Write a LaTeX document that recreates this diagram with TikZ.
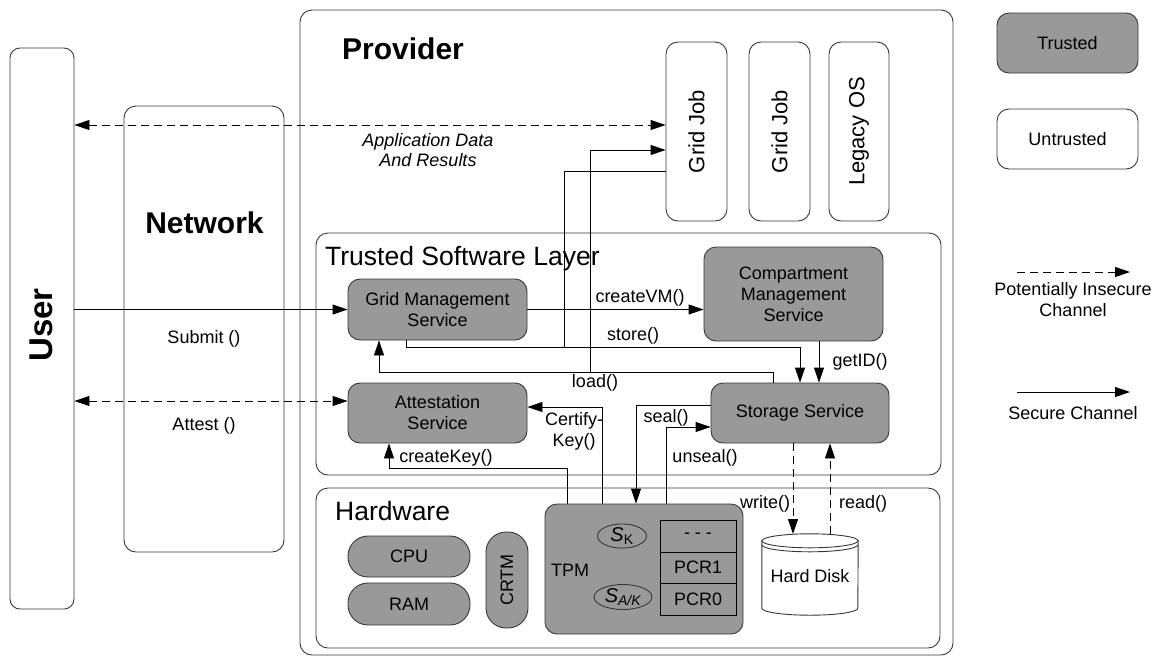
\documentclass[tikz,border=0pt]{standalone}
\usepackage{fontspec}
\setmainfont{Liberation Sans}
\usetikzlibrary{arrows.meta,shapes.geometric,calc}
\definecolor{trustgray}{RGB}{153,153,153}
\definecolor{edgegray}{RGB}{55,55,55}
\begin{document}
\begin{tikzpicture}[x=1pt,y=-1pt,
  >={Triangle[length=15pt,width=10pt]},
  box/.style={draw=edgegray, line width=0.9pt, rounded corners=12pt, inner sep=0pt},
  tbox/.style={box, fill=trustgray},
  ubox/.style={box, fill=white},
  pill/.style={box, fill=trustgray, rounded corners=20pt},
  cell/.style={draw=black, line width=0.9pt, fill=trustgray, inner sep=0pt,
    minimum width=76pt, font=\fontsize{18}{21}\selectfont},
  keyoval/.style={ellipse, draw=edgegray, line width=0.9pt, fill=trustgray, inner sep=0pt,
    font=\fontsize{20}{22}\selectfont},
  lbl/.style={inner sep=0pt, align=center, font=\fontsize{18}{21}\selectfont},
  bigbold/.style={inner sep=0pt, font=\fontsize{30}{36}\selectfont\bfseries},
  layertitle/.style={inner sep=0pt, anchor=base west, font=\fontsize{26.5}{32}\selectfont},
  jobtext/.style={inner sep=0pt, rotate=90, font=\fontsize{22}{26}\selectfont},
  sec/.style={draw=black, line width=0.9pt},
  insec/.style={sec, dash pattern=on 8pt off 5pt}]

\useasboundingbox (0,0) rectangle (1158,657);

% ---------- outer containers ----------
\node[ubox, minimum width=653pt, minimum height=645pt] (provider) at (626.5,332.5) {};
\node[ubox, rounded corners=10pt, minimum width=64pt, minimum height=561pt] (user) at (42,328.5) {};
\node[ubox, minimum width=160pt, minimum height=446pt] (network) at (204,329) {};
\node[box, minimum width=625pt, minimum height=242pt] (tsl) at (628.5,354) {};
\node[box, minimum width=624pt, minimum height=160pt] (hw) at (628,568) {};

\node[bigbold, anchor=base west] (providerlbl) at (342,59) {Provider};
\node[bigbold, anchor=base] (networklbl) at (204.5,233) {Network};
\node[inner sep=0pt, rotate=90, font=\fontsize{33}{38}\selectfont\bfseries] (userlbl) at (41,325) {User};
\node[layertitle] (tsllbl) at (325,265) {Trusted Software Layer};
\node[layertitle] (hwlbl) at (335,520) {Hardware};

% ---------- untrusted compartments ----------
\node[ubox, minimum width=61pt, minimum height=179pt] (gj1) at (696.5,131.5) {};
\node[ubox, minimum width=61pt, minimum height=179pt] (gj2) at (779.5,131.5) {};
\node[ubox, minimum width=60pt, minimum height=179pt] (legacy) at (859,131.5) {};
\node[jobtext] (gj1t) at (gj1) {Grid Job};
\node[jobtext] (gj2t) at (gj2) {Grid Job};
\node[jobtext] (legacyt) at (legacy) {Legacy OS};

% ---------- trusted services ----------
\node[tbox, lbl, minimum width=179pt, minimum height=61pt] (gms) at (437.5,309.5) {Grid Management\\Service};
\node[tbox, lbl, minimum width=179pt, minimum height=60pt] (as) at (437.5,413) {Attestation\\Service};
\node[tbox, lbl, minimum width=179pt, minimum height=94pt] (cms) at (793.5,294) {Compartment\\Management\\Service};
\node[tbox, lbl, minimum width=178pt, minimum height=60pt] (ss) at (800,413) {Storage Service};

% ---------- hardware ----------
\node[pill, lbl, minimum width=122pt, minimum height=41pt] (cpu) at (409,556.5) {CPU};
\node[pill, lbl, minimum width=122pt, minimum height=42pt] (ram) at (409,604) {RAM};
\node[pill, minimum width=42pt, minimum height=96pt, rounded corners=20pt] (crtm) at (507,580) {};
\node[lbl, rotate=90] (crtmt) at (crtm) {CRTM};
\node[tbox, minimum width=198pt, minimum height=130pt] (tpm) at (644,569) {};
\node[lbl] (tpmt) at (570,570) {TPM};
\node[keyoval, minimum width=49pt, minimum height=23pt] (sk) at (622,536)
      {\itshape S\upshape\textsubscript{K}};
\node[keyoval, minimum width=58pt, minimum height=25pt] (sak) at (623,597)
      {\itshape S\textsubscript{A/K}};
\node[cell, minimum height=32pt] (pcrx) at (698,536) {- - -};
\node[cell, minimum height=31pt] (pcr1) at (698,567.5) {PCR1};
\node[cell, minimum height=32pt] (pcr0) at (698,599) {PCR0};

% hard disk drawn as a cylinder around its frame node
\node[minimum width=96pt, minimum height=81pt, inner sep=0pt] (disk) at (810,574.5) {};
\draw[draw=edgegray, line width=0.9pt, fill=white]
  ($(disk.north west)+(0,7)$) -- ($(disk.south west)+(0,-7)$)
  arc[start angle=180, end angle=360, x radius=48pt, y radius=7pt]
  -- ($(disk.north east)+(0,7)$) -- cycle;
\draw[draw=edgegray, line width=0.9pt, fill=white] ($(disk.north)+(0,7)$) ellipse[x radius=48pt, y radius=7pt];
\draw[draw=edgegray, line width=0.9pt] ($(disk.north west)+(0,11)$)
  arc[start angle=180, end angle=360, x radius=48pt, y radius=7pt];
\node[lbl] (disklbl) at ($(disk.center)+(0,2)$) {Hard Disk};

% ---------- legend ----------
\node[tbox, lbl, minimum width=141pt, minimum height=60pt] (legtrust) at (1067.5,43) {Trusted};
\node[ubox, lbl, minimum width=141pt, minimum height=60pt] (leguntrust) at (1067.5,139) {Untrusted};
\coordinate (li1) at (1017,272);
\coordinate (li2) at (1130,272);
\coordinate (ls1) at (1017,392);
\coordinate (ls2) at (1130,392);
\draw[insec,->] (li1) -- (li2);
\draw[sec,->] (ls1) -- (ls2);
\node[lbl] (leginsec) at (1073,300) {Potentially Insecure\\Channel};
\node[lbl] (legsec) at (1073,413) {Secure Channel};

% ---------- connector routing levels ----------
\coordinate (yapp) at (0,125);
\coordinate (ygjload) at (0,150);
\coordinate (ygjstore) at (0,171);
\coordinate (ystore) at (0,347);
\coordinate (yload) at (0,372);
\coordinate (yatt) at (0,401);
\coordinate (yseal) at (0,405);
\coordinate (ycert) at (0,407);
\coordinate (yunseal) at (0,427);
\coordinate (yck) at (0,468);
\coordinate (ydisk) at (0,534);
\coordinate (xstore) at (406,0);
\coordinate (xgjstore) at (564,0);
\coordinate (xgjload) at (590,0);
\coordinate (xstoreend) at (800,0);
\coordinate (xgetid) at (819,0);
\coordinate (xloads) at (773,0);
\coordinate (xloade) at (379,0);
\coordinate (xck) at (567,0);
\coordinate (xcke) at (389,0);
\coordinate (xcert) at (602,0);
\coordinate (xseal) at (636,0);
\coordinate (xunseal) at (666,0);
\coordinate (xwrite) at (793,0);
\coordinate (xread) at (830,0);

% ---------- connectors ----------
\draw[insec,<->] (user.east |- yapp) -- (gj1.west |- yapp);
\draw[sec,->] (user.east |- gms.west) -- (gms.west);
\draw[insec,<->] (user.east |- yatt) -- (as.west |- yatt);
\draw[sec,->] (gms.east) -- (cms.west |- gms.east);
\draw[sec,->] (gms.south -| xstore) |- (xstoreend |- ystore) -- (ss.north -| xstoreend);
\draw[sec] (xgjstore |- ystore) |- (gj1.west |- ygjstore);
\draw[sec,->] (cms.south -| xgetid) -- (ss.north -| xgetid);
\draw[sec,->] (ss.north -| xloads) |- (xloade |- yload) -- (gms.south -| xloade);
\draw[sec,->] (xgjload |- yload) |- (gj1.west |- ygjload);
\draw[sec,->] (tpm.north -| xcert) |- (as.east |- ycert);
\draw[sec,->] (tpm.north -| xck) |- (xcke |- yck) -- (as.south -| xcke);
\draw[sec,->] (ss.west |- yseal) -| (tpm.north -| xseal);
\draw[sec,->] (tpm.north -| xunseal) |- (ss.west |- yunseal);
\draw[insec,->] (ss.south -| xwrite) -- (xwrite |- ydisk);
\draw[insec,->] (xread |- ydisk) -- (ss.south -| xread);

% ---------- connector labels ----------
\node[lbl, font=\fontsize{18}{20}\selectfont\itshape] (applbl) at (428,150) {Application Data\\And Results};
\node[lbl] (submitlbl) at (204,339) {Submit ()};
\node[lbl] (attestlbl) at (204,426) {Attest ()};
\node[lbl] (createvmlbl) at (640,298) {createVM()};
\node[lbl] (storelbl) at (633,336) {store()};
\node[lbl] (loadlbl) at (595,383) {load()};
\node[lbl] (getidlbl) at (860,362) {getID()};
\node[lbl] (certlbl) at (574,431) {Certify-\\Key()};
\node[lbl] (cklbl) at (446,458) {createKey()};
\node[lbl] (seallbl) at (666,418) {seal()};
\node[lbl] (unseallbl) at (705,458) {unseal()};
\node[lbl] (writelbl) at (765,504) {write()};
\node[lbl] (readlbl) at (863,504) {read()};
\end{tikzpicture}
\end{document}
